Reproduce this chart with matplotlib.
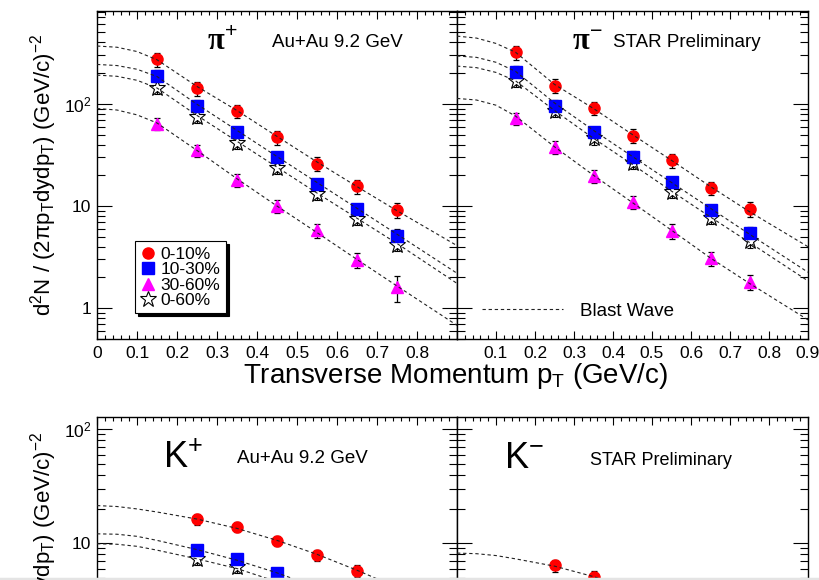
import matplotlib
matplotlib.use("Agg")
from matplotlib import pyplot as plt
from matplotlib.lines import Line2D
from matplotlib.ticker import FixedLocator, MultipleLocator, LogLocator, NullFormatter
import numpy as np

plt.rcParams['font.family'] = ['Liberation Sans', 'DejaVu Sans']
plt.rcParams['mathtext.fontset'] = 'custom'
plt.rcParams['mathtext.rm'] = 'Liberation Sans'
plt.rcParams['mathtext.it'] = 'Liberation Sans:italic'
plt.rcParams['mathtext.bf'] = 'Liberation Sans:bold'

# data points (pT bins, GeV/c)
pt = [0.15, 0.25, 0.35, 0.45, 0.55, 0.65, 0.75]

# pi+
pip_010 = [272, 142, 85, 47, 26, 15.6, 9.2]
pip_010_err = [44, 22, 13, 7, 4, 2.4, 1.5]
pip_1030 = [187, 96, 53, 30, 16.4, 9.3, 5.1]
pip_1030_err = [25, 12, 7, 4, 2.1, 1.2, 0.8]
pip_3060 = [64, 35, 17.9, 10, 5.8, 2.96, 1.6]
pip_3060_err = [9, 5, 2.6, 1.4, 0.9, 0.5, 0.45]
pip_060 = [143, 75, 41.5, 23.8, 13.2, 7.5, 4.2]
pip_060_err = [19, 10, 5.5, 3.2, 1.8, 1.0, 0.6]

# pi-
pim_010 = [319, 151, 91, 49, 28, 15, 9.4]
pim_010_err = [50, 23, 14, 7.5, 4.2, 2.3, 1.5]
pim_1030 = [206, 96, 53, 30.5, 17, 9.1, 5.4]
pim_1030_err = [26, 12, 7, 4, 2.2, 1.2, 0.8]
pim_3060 = [72, 37.6, 19.7, 10.9, 5.7, 3.07, 1.8]
pim_3060_err = [10, 5.5, 2.8, 1.6, 0.9, 0.5, 0.3]
pim_060 = [167, 85, 46, 26.4, 13.7, 7.7, 4.5]
pim_060_err = [21, 11, 6, 3.4, 1.8, 1.0, 0.6]

# K+ / K- (only the visible part of the lower row)
pt_k = [0.25, 0.35, 0.45, 0.55, 0.65]
kp_010 = [16.3, 14.0, 10.5, 7.9, 5.75]
kp_010_err = [1.7, 1.5, 1.1, 0.9, 0.65]
kp_1030 = [8.7, 7.3, 5.5]
kp_1030_err = [0.9, 0.8, 0.6]
kp_060 = [7.3, 6.2, 4.6]
kp_060_err = [0.8, 0.7, 0.5]
km_010 = [6.4, 5.1]
km_010_err = [0.8, 0.6]

# blast wave fits
bw_pt = [0, 0.05, 0.1, 0.15, 0.25, 0.35, 0.45, 0.55, 0.65, 0.75, 0.9]
bw_pip_010 = [368, 358, 325, 270, 148, 86, 48, 27, 15.5, 9.0, 4.1]
bw_pip_1030 = [243, 237, 218, 185, 99, 55, 30.5, 17, 9.5, 5.3, 2.2]
bw_pip_060 = [191, 186, 170, 143, 77, 43, 24, 13.4, 7.6, 4.3, 1.75]
bw_pip_3060 = [90, 87, 78, 65, 35, 18.5, 10, 5.5, 3.0, 1.65, 0.68]
bw_pim_010 = [460, 440, 390, 320, 155, 90, 50, 28, 15.5, 8.8, 4.0]
bw_pim_1030 = [294, 285, 255, 208, 102, 55, 30.5, 17, 9.5, 5.3, 2.25]
bw_pim_060 = [234, 226, 203, 168, 86, 46, 25.5, 14, 7.8, 4.4, 1.85]
bw_pim_3060 = [113, 109, 97, 76, 38, 20, 10.8, 5.8, 3.1, 1.75, 0.77]
bw_kp_010 = [21.4, 21, 20, 18.8, 16.3, 13.5, 10.6, 8.0, 5.8, 4.1, 2.4]
bw_kp_1030 = [12.1, 12.0, 11.5, 10.6, 8.8, 7.1, 5.5, 4.1, 3.0, 2.1, 1.2]
bw_kp_060 = [9.9, 9.8, 9.4, 8.7, 7.3, 6.0, 4.6, 3.4, 2.5, 1.75, 1.0]
bw_km_010 = [8.2, 8.1, 7.8, 7.3, 6.3, 5.1, 3.9, 2.9, 2.1, 1.5, 0.85]

RED = '#ff0000'
BLUE = '#0000ff'
MAG = '#ff00ff'

styles = {
    '0-10%': dict(marker='o', ms=8, mfc=RED, mec=RED),
    '10-30%': dict(marker='s', ms=8, mfc=BLUE, mec=BLUE),
    '30-60%': dict(marker='^', ms=9, mfc=MAG, mec=MAG),
    '0-60%': dict(marker='*', ms=12, mfc='white', mec='black', mew=0.8),
}

fig = plt.figure(figsize=(8.19, 5.8), dpi=100)

W = 819.0
H = 580.0


def px_axes(x0, y0, w, h):
    return fig.add_axes([x0 / W, (H - y0 - h) / H, w / W, h / H])


ax_pip = px_axes(97, 11, 360, 328)
ax_pim = px_axes(457, 11, 351, 328)
ax_kp = px_axes(97, 417, 360, 320)
ax_km = px_axes(457, 417, 351, 320)


def style_axes(ax, ylim, ylabels, xlabels):
    ax.set_yscale('log')
    ax.set_xlim(0, 0.9)
    ax.set_ylim(*ylim)
    ax.set_xticks(np.arange(0, 0.91, 0.1))
    ax.xaxis.set_minor_locator(MultipleLocator(0.02))
    if xlabels is None:
        ax.tick_params(axis='x', labelbottom=False)
    else:
        ax.set_xticklabels(xlabels)
    ax.yaxis.set_major_locator(FixedLocator([1, 10, 100]))
    ax.yaxis.set_minor_locator(LogLocator(base=10, subs=np.arange(2, 10)))
    ax.yaxis.set_minor_formatter(NullFormatter())
    ax.set_yticklabels(ylabels)
    ax.tick_params(which='both', direction='in', top=True, right=True,
                   width=0.8, labelsize=12.5, colors='black')
    ax.tick_params(axis='x', which='major', length=6, pad=5)
    ax.tick_params(axis='x', which='minor', length=3)
    ax.tick_params(axis='y', which='major', length=11, pad=4)
    ax.tick_params(axis='y', which='minor', length=6)
    for s in ax.spines.values():
        s.set_linewidth(1.0)


left_x = ['0', '0.1', '0.2', '0.3', '0.4', '0.5', '0.6', '0.7', '0.8', '']
right_x = ['', '0.1', '0.2', '0.3', '0.4', '0.5', '0.6', '0.7', '0.8', '0.9']

style_axes(ax_pip, (0.5, 810), ['1', '10', '$10^{2}$'], left_x)
style_axes(ax_pim, (0.5, 810), ['', '', ''], right_x)
style_axes(ax_kp, (0.2, 128), ['', '10', '$10^{2}$'], None)
style_axes(ax_km, (0.2, 128), ['', '', ''], None)


def draw_points(ax, x, y, yerr, label):
    ax.errorbar(x, y, yerr=yerr, ls='none', ecolor='black', elinewidth=0.9,
                capsize=2.5, capthick=0.9, zorder=3, **styles[label])


def draw_curve(ax, y):
    ax.plot(bw_pt, y, color='#222222', lw=0.8, dashes=(3, 2.5), zorder=5)


# pi+
draw_points(ax_pip, pt, pip_060, pip_060_err, '0-60%')
draw_points(ax_pip, pt, pip_3060, pip_3060_err, '30-60%')
draw_points(ax_pip, pt, pip_1030, pip_1030_err, '10-30%')
draw_points(ax_pip, pt, pip_010, pip_010_err, '0-10%')
for c in [bw_pip_010, bw_pip_1030, bw_pip_060, bw_pip_3060]:
    draw_curve(ax_pip, c)

# pi-
draw_points(ax_pim, pt, pim_060, pim_060_err, '0-60%')
draw_points(ax_pim, pt, pim_3060, pim_3060_err, '30-60%')
draw_points(ax_pim, pt, pim_1030, pim_1030_err, '10-30%')
draw_points(ax_pim, pt, pim_010, pim_010_err, '0-10%')
for c in [bw_pim_010, bw_pim_1030, bw_pim_060, bw_pim_3060]:
    draw_curve(ax_pim, c)

# K+
draw_points(ax_kp, pt_k[:3], kp_060, kp_060_err, '0-60%')
draw_points(ax_kp, pt_k[:3], kp_1030, kp_1030_err, '10-30%')
draw_points(ax_kp, pt_k, kp_010, kp_010_err, '0-10%')
for c in [bw_kp_010, bw_kp_1030, bw_kp_060]:
    draw_curve(ax_kp, c)

# K-
draw_points(ax_km, pt_k[:2], km_010, km_010_err, '0-10%')
draw_curve(ax_km, bw_km_010)

# panel labels
serif = ['Liberation Serif', 'DejaVu Serif']
ax_pip.text(0.347, 0.905, 'π$^{+}$', transform=ax_pip.transAxes, fontsize=22,
            family=serif, weight='bold', ha='center', va='center')
ax_pip.text(0.485, 0.905, 'Au+Au 9.2 GeV', transform=ax_pip.transAxes,
            fontsize=13.5, ha='left', va='center')
ax_pim.text(0.37, 0.905, 'π$^{-}$', transform=ax_pim.transAxes, fontsize=22,
            family=serif, weight='bold', ha='center', va='center')
ax_pim.text(0.445, 0.905, 'STAR Preliminary', transform=ax_pim.transAxes,
            fontsize=13.5, ha='left', va='center')
ax_kp.text(0.24, 0.87, 'K$^{+}$', transform=ax_kp.transAxes, fontsize=26,
           ha='center', va='center')
ax_kp.text(0.39, 0.87, 'Au+Au 9.2 GeV', transform=ax_kp.transAxes,
           fontsize=13.5, ha='left', va='center')
ax_km.text(0.19, 0.87, 'K$^{-}$', transform=ax_km.transAxes, fontsize=26,
           ha='center', va='center')
ax_km.text(0.38, 0.865, 'STAR Preliminary', transform=ax_km.transAxes,
           fontsize=13, ha='left', va='center')

# centrality legend with black shadow
handles = [Line2D([], [], ls='none', **styles[k]) for k in styles]
leg = ax_pip.legend(handles, list(styles.keys()), loc='lower left',
                    bbox_to_anchor=(0.105, 0.078), borderaxespad=0,
                    fontsize=12.5, handlelength=0.9, handletextpad=0.3,
                    labelspacing=0.02, borderpad=0.3, fancybox=False,
                    shadow={'color': 'black', 'alpha': 1.0}, framealpha=1)
leg.get_frame().set_edgecolor('black')
leg.get_frame().set_linewidth(0.8)

bw_handle = Line2D([], [], color='#222222', lw=0.8, dashes=(3, 2.5))
ax_pim.legend([bw_handle], ['Blast Wave'], loc='lower left',
              bbox_to_anchor=(0.05, 0.035), borderaxespad=0, frameon=False,
              fontsize=13.5, handlelength=4.3, handletextpad=0.9)

# axis titles
fig.text(456 / W, 1 - 383 / H, r'Transverse Momentum p$_{\mathrm{T}}$ (GeV/c)',
         fontsize=20, ha='center', va='baseline')
ylab = r'd$^{2}$N / (2πp$_{\mathrm{T}}$dydp$_{\mathrm{T}}$) (GeV/c)$^{-2}$'
fig.text(44 / W, 1 - 175 / H, ylab, fontsize=16, rotation=90,
         ha='center', va='center')
fig.text(44 / W, 1 - 573 / H, ylab, fontsize=16, rotation=90,
         ha='center', va='center')

# light page edge at the bottom
fig.add_artist(Line2D([0, 1], [1.5 / H, 1.5 / H], transform=fig.transFigure,
                      color='#e4e4e4', lw=2.5))

fig.savefig('out.png', dpi=100)
